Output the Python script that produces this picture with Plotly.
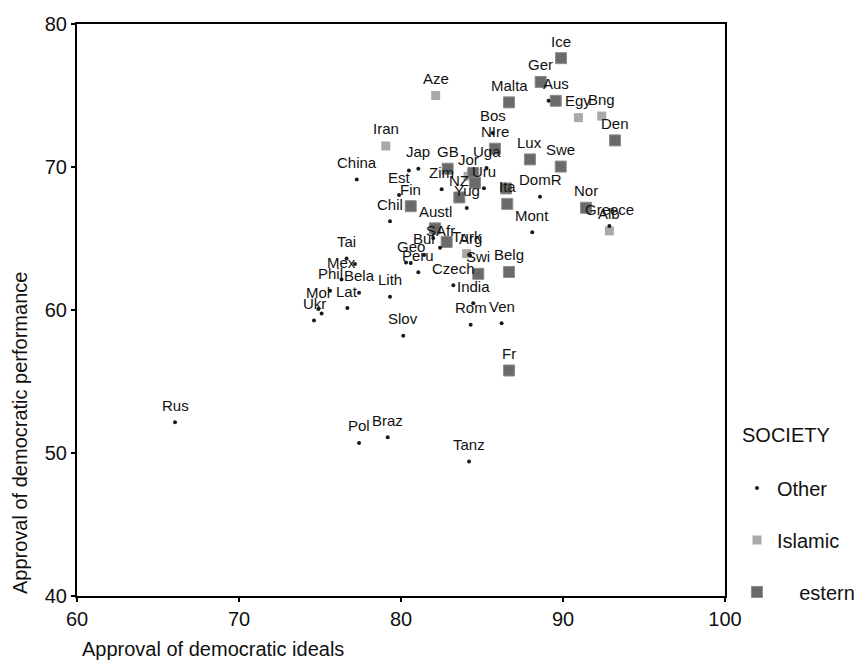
import plotly.graph_objects as go

# ---- data ----
other_names = ["Rus", "China", "Jap", "", "Est", "Chil", "Zim", "Uru", "Uga", "Yug", "Bos",
               "DomR", "Mont", "Greece", "", "SAfr", "Bul", "", "Arg", "Geo", "", "Peru",
               "Czech", "India", "Lith", "Tai", "", "Mex", "Phil", "Bela", "Lat", "Mol", "",
               "Ukr", "Slov", "Rom", "Ven", "Pol", "Braz", "Tanz"]
other_x = [66.05, 77.27, 81.07, 80.49, 79.88, 79.32, 82.51, 85.12, 85.28, 84.06, 85.66,
           88.58, 88.10, 92.86, 89.11, 82.41, 81.42, 81.99, 84.26, 80.60, 80.31, 81.07,
           83.23, 84.46, 79.32, 76.64, 77.16, 76.33, 75.62, 77.41, 76.69, 74.90, 75.10,
           74.63, 80.14, 84.30, 86.21, 77.41, 79.18, 84.20]
other_y = [52.15, 69.13, 69.88, 69.76, 68.05, 66.20, 68.44, 68.51, 69.93, 67.14, 72.38,
           67.92, 65.44, 65.87, 74.63, 64.35, 63.84, 65.03, 63.82, 63.28, 63.32, 62.64,
           61.73, 60.48, 60.93, 63.60, 63.21, 62.14, 61.34, 61.21, 60.14, 60.07, 59.75,
           59.27, 58.20, 58.96, 59.07, 50.70, 51.10, 49.40]

islamic_names = ["Aze", "Iran", "Egy", "Bng", "Jor", "Turk", "Alb"]
islamic_x = [82.14, 79.06, 90.95, 92.39, 84.14, 84.05, 92.86]
islamic_y = [75.00, 71.47, 73.45, 73.56, 69.35, 63.94, 65.53]

western_names = ["Ice", "Ger", "Aus", "Malta", "Den", "Lux", "Swe", "NIre", "GB", "NZ",
                 "", "", "", "Ita", "Fin", "Austl", "", "Swi", "Belg", "Nor", "Fr"]
western_x = [89.88, 88.62, 89.55, 86.67, 93.21, 87.96, 89.86, 85.80, 82.88, 83.60,
             84.46, 84.57, 86.48, 86.56, 80.60, 82.10, 82.82, 84.77, 86.67, 91.42, 86.67]
western_y = [77.61, 75.95, 74.63, 74.52, 71.86, 70.53, 70.03, 71.28, 69.88, 67.87,
             69.58, 68.90, 68.50, 67.42, 67.26, 65.71, 64.76, 62.53, 62.66, 67.15, 55.77]

x_ticks = [60, 70, 80, 90, 100]
y_ticks = [40, 50, 60, 70, 80]
legend_title = "SOCIETY"
legend_labels = ["Other", "Islamic", "\u00a0\u00a0\u00a0\u00a0estern"]

FONT = "Liberation Sans, Arial, sans-serif"
TXT = "#111111"

fig = go.Figure()

# drawing order: Islamic (bottom), Western, Other (top); legend order via legendrank
fig.add_trace(go.Scatter(
    x=islamic_x, y=islamic_y, mode="markers", name=legend_labels[1],
    legendgroup="i", legendrank=2,
    marker=dict(symbol="square", size=9, color="#a9a9a9", line=dict(width=0)),
))
fig.add_trace(go.Scatter(
    x=western_x, y=western_y, mode="markers", name=legend_labels[2],
    legendgroup="w", legendrank=3,
    marker=dict(symbol="square", size=11, color="#6a6a6a",
                line=dict(width=1, color="#8c8c8c")),
))
fig.add_trace(go.Scatter(
    x=other_x, y=other_y, mode="markers", name=legend_labels[0],
    legendgroup="o", legendrank=1,
    marker=dict(symbol="circle", size=4, color="#1a1a1a", line=dict(width=0)),
))

annotations = []
for names, xs, ys in [(other_names, other_x, other_y),
                      (islamic_names, islamic_x, islamic_y),
                      (western_names, western_x, western_y)]:
    for n, xv, yv in zip(names, xs, ys):
        if not n:
            continue
        annotations.append(dict(
            x=xv, y=yv, xref="x", yref="y", text=n, showarrow=False,
            yshift=17, font=dict(family=FONT, size=15, color=TXT),
        ))

# axis titles
annotations.append(dict(
    x=0, y=0, xref="paper", yref="paper", xanchor="left", yanchor="middle",
    xshift=3, yshift=-53, text="Approval of democratic ideals", showarrow=False,
    font=dict(family=FONT, size=20, color=TXT),
))
annotations.append(dict(
    x=0, y=0, xref="paper", yref="paper", xanchor="center", yanchor="bottom",
    xshift=-57, yshift=0, textangle=-90, text="Approval of democratic performance",
    showarrow=False, font=dict(family=FONT, size=20, color=TXT),
))
# legend title
annotations.append(dict(
    x=1.0231, y=0.2813, xref="paper", yref="paper", xanchor="left", yanchor="middle",
    text=legend_title, showarrow=False, font=dict(family=FONT, size=20, color=TXT),
))

fig.update_layout(
    width=865, height=667,
    margin=dict(l=69, r=148, t=5, b=79),
    paper_bgcolor="white", plot_bgcolor="white",
    font=dict(family=FONT, size=20, color=TXT),
    annotations=annotations,
    showlegend=True,
    legend=dict(
        x=1.0185, y=0.223, xanchor="left", yanchor="top",
        font=dict(family=FONT, size=20, color=TXT),
        tracegroupgap=23, bgcolor="rgba(0,0,0,0)", borderwidth=0,
        traceorder="grouped",
    ),
    xaxis=dict(
        range=[60, 100], tickvals=x_ticks, ticktext=[str(v) for v in x_ticks],
        showgrid=False, zeroline=False, showline=True, linecolor="black", linewidth=2,
        mirror=True, ticks="outside", ticklen=4, tickwidth=1.5, tickcolor="black",
        ticklabeloverflow="allow",
        tickfont=dict(family=FONT, size=20, color=TXT),
    ),
    yaxis=dict(
        range=[40, 80], tickvals=y_ticks, ticktext=[str(v) for v in y_ticks],
        showgrid=False, zeroline=False, showline=True, linecolor="black", linewidth=2,
        mirror=True, ticks="outside", ticklen=4, tickwidth=1.5, tickcolor="black",
        ticklabeloverflow="allow",
        tickfont=dict(family=FONT, size=20, color=TXT),
    ),
)

fig.write_html("out.html")
